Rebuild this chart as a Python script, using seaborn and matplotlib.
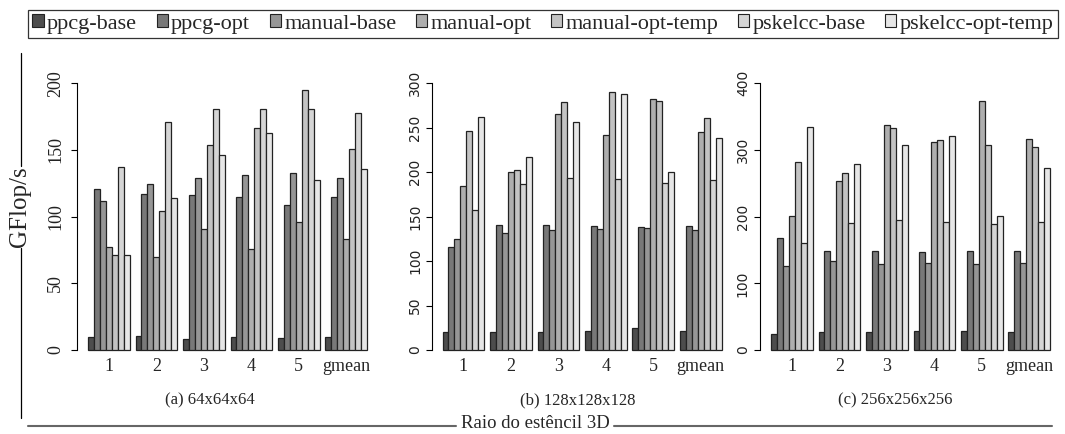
import matplotlib
matplotlib.use("Agg")
import matplotlib.pyplot as plt
import pandas as pd
import seaborn as sns
from matplotlib.patches import Patch
from matplotlib.lines import Line2D

variants = ["ppcg-base", "ppcg-opt", "manual-base", "manual-opt",
            "manual-opt-temp", "pskelcc-base", "pskelcc-opt-temp"]
radii = ["1", "2", "3", "4", "5", "gmean"]

# GFlop/s for stencil radius 1..5 and the geometric mean, grid 64x64x64
ppcg_base_64 = [10, 10.5, 8.5, 9.5, 8.7, 9.5]
ppcg_opt_64 = [121, 117, 116, 114.5, 109, 114.5]
manual_base_64 = [112, 124.5, 129, 131.5, 133, 129]
manual_opt_64 = [77, 70, 90.5, 76, 96, 83]
manual_opt_temp_64 = [71.5, 104, 154, 166.5, 195, 151]
pskelcc_base_64 = [137.5, 171, 181, 181, 180.5, 178]
pskelcc_opt_temp_64 = [71.5, 114, 146, 163, 127.5, 136]

# grid 128x128x128
ppcg_base_128 = [20.6, 20, 20, 21.4, 24.4, 21.4]
ppcg_opt_128 = [116, 140.6, 140.6, 140, 138.4, 140]
manual_base_128 = [124.5, 132, 134.6, 136.5, 137, 135]
manual_opt_128 = [184, 200.6, 265.5, 242, 282, 245.6]
manual_opt_temp_128 = [246.7, 202, 278.6, 290, 280, 260.6]
pskelcc_base_128 = [157, 187, 194, 192.4, 188, 191]
pskelcc_opt_temp_128 = [262.5, 217.5, 256.5, 288, 200, 238.5]

# grid 256x256x256
ppcg_base_256 = [24, 27, 27, 29, 28, 27.5]
ppcg_opt_256 = [167.5, 149, 149, 147.5, 148, 148]
manual_base_256 = [125.5, 133, 128.5, 130, 129.5, 130]
manual_opt_256 = [201.5, 254, 337.5, 311.5, 374, 316]
manual_opt_temp_256 = [281.5, 265, 332.5, 315.5, 307, 304.5]
pskelcc_base_256 = [161, 190, 195.5, 192.5, 189, 192]
pskelcc_opt_temp_256 = [335, 279.5, 307, 320.5, 200.5, 272.5]

panels = [
    ("(a) 64x64x64", [ppcg_base_64, ppcg_opt_64, manual_base_64, manual_opt_64,
                      manual_opt_temp_64, pskelcc_base_64, pskelcc_opt_temp_64],
     [0, 50, 100, 150, 200]),
    ("(b) 128x128x128", [ppcg_base_128, ppcg_opt_128, manual_base_128, manual_opt_128,
                         manual_opt_temp_128, pskelcc_base_128, pskelcc_opt_temp_128],
     [0, 50, 100, 150, 200, 250, 300]),
    ("(c) 256x256x256", [ppcg_base_256, ppcg_opt_256, manual_base_256, manual_opt_256,
                         manual_opt_temp_256, pskelcc_base_256, pskelcc_opt_temp_256],
     [0, 100, 200, 300, 400]),
]

grays = ["#4d4d4d", "#787878", "#969696", "#aeaeae", "#c3c3c3", "#d5d5d5", "#e6e6e6"]
edge = "#222222"

sns.set_style("white")
plt.rcParams["font.family"] = ["Liberation Serif", "DejaVu Serif"]

W, H = 1065, 434
fig = plt.figure(figsize=(W / 100, H / 100), dpi=100)

axis_left_px = [77, 431.5, 760]
axis_width_px = 293
bottom_px, top_px = 350, 83.3
caption_x_px = [210, 578, 895]
# tick-label font for each panel's value axis
ytick_fonts = [("Liberation Serif", 13, 5), ("DejaVu Sans", 10, 2.5),
               ("DejaVu Sans", 10, 3)]

for (caption, series, yticks), lx, cx, (yfam, ysize, ypad) in zip(
        panels, axis_left_px, caption_x_px, ytick_fonts):
    rows = []
    for name, vals in zip(variants, series):
        for r, v in zip(radii, vals):
            rows.append({"raio": r, "variante": name, "gflops": v})
    df = pd.DataFrame(rows)

    ax = fig.add_axes([lx / W, (H - bottom_px) / H, axis_width_px / W,
                       (bottom_px - top_px) / H])
    sns.barplot(data=df, x="raio", y="gflops", hue="variante",
                order=radii, hue_order=variants, palette=grays,
                width=0.875, gap=0, saturation=1, edgecolor=edge,
                linewidth=0.9, legend=False, ax=ax)
    for p in ax.patches:
        p.set_clip_on(False)

    ax.set_xlim(-0.67, 5.5)
    ax.set_ylim(0, yticks[-1])
    ax.set_yticks(yticks)
    ax.set_xlabel("")
    ax.set_ylabel("")
    for s in ("top", "right", "bottom"):
        ax.spines[s].set_visible(False)
    ax.spines["left"].set_bounds(0, yticks[-1])
    ax.spines["left"].set_color("black")
    ax.spines["left"].set_linewidth(0.8)
    ax.tick_params(axis="y", direction="out", length=4.3, width=0.8,
                   color="black", labelsize=ysize, pad=ypad, left=True)
    ax.tick_params(axis="x", length=0, labelsize=13, pad=6)
    for lbl in ax.get_yticklabels():
        lbl.set_rotation(90)
        lbl.set_va("center")
        lbl.set_ha("right")
        lbl.set_family(yfam)
        lbl.set_color("#222222")
    ax.set_facecolor("none")

    fig.text(cx / W, 1 - 400 / H, caption, ha="center", va="center", fontsize=12)

# y-axis title with rules above and below
fig.text(20 / W, 1 - 207 / H, "GFlop/s", rotation=90, ha="center", va="center",
         fontsize=18)
fig.add_artist(Line2D([21 / W, 21 / W], [1 - 53 / H, 1 - 166 / H],
                      color="black", lw=0.9))
fig.add_artist(Line2D([21 / W, 21 / W], [1 - 248 / H, 1 - 418 / H],
                      color="black", lw=0.9))

# x-axis title with rules on both sides
fig.text(535 / W, 1 - 424 / H, "Raio do estêncil 3D", ha="center", va="center",
         fontsize=13.5)
fig.add_artist(Line2D([28 / W, 456 / W], [1 - 426 / H, 1 - 426 / H],
                      color="#666666", lw=1.5))
fig.add_artist(Line2D([614 / W, 1052 / W], [1 - 426 / H, 1 - 426 / H],
                      color="#666666", lw=1.5))

handles = [Patch(facecolor=g, edgecolor=edge, linewidth=0.8) for g in grays]
leg = fig.legend(handles, variants, ncol=7, loc="lower left",
                 bbox_to_anchor=(28 / W, 1 - 38 / H, 1030 / W, 33 / H),
                 mode="expand", borderaxespad=0, fontsize=16,
                 handlelength=0.5, handleheight=0.5, handletextpad=0.15,
                 borderpad=0.2, frameon=True, fancybox=False)
leg.get_frame().set_edgecolor("black")
leg.get_frame().set_linewidth(0.9)

fig.savefig("out.png", dpi=100)
